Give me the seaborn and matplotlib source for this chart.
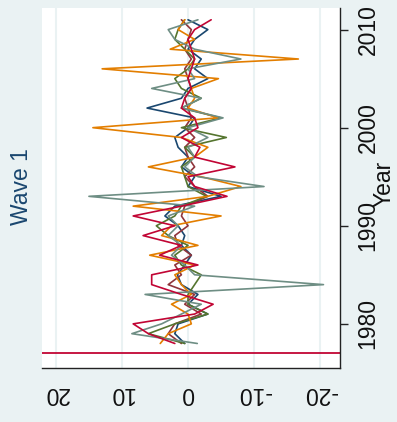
import numpy as np
import pandas as pd
import matplotlib
matplotlib.use("Agg")
import matplotlib.pyplot as plt
import seaborn as sns

years = list(range(1978, 2012))
navy = [0.5, 2, 1.5, -3, 0, -1.5, 1, 1.6, 0.5, -0.5, 1, 0.5, 1.5, 3.5, 2, -5, 0, -1, 1, 0,
        1.5, 2, 0, -1, 6.2, 1, 0, -3, -1, -2, 0, -1, -3, 0]
maroon = [1, 3, 2, -2, 0.5, -1, 3, 1, 2, -0.5, 1.5, 2, 0, 1, 0.5, -3, -1, 0.5, -1, 0,
          0.5, -1, 0.5, -0.5, 0, 0.5, -0.5, 0, 0.5, -0.5, 0.5, 0, -0.5, 1]
green = [0.5, 6, 2, -3, 0, 0, -1, -2, 1, 2, 0, 3, 4.8, 2, 1, -2.8, 0, 0.5, 1, -1,
         0.5, -5.8, 1, -5, 1, -2, 1, 2, 0, -1, 0.5, 2, 1.5, 0.5]
orange = [4.2, 3, -0.5, 0, 2.5, -0.5, 1, 2, -1, 5.8, -1.5, 4, 2.5, -5, 8.3, -3, -8, -2, 6, -1,
          -3, 1, 14.4, -4.5, 0, -1, -0.5, -4.6, 13, -16.7, 2.7, -1, 1.5, 0.5]
teal = [-1.4, 8.5, 4, 1, -2, 6.5, -20.5, -1, 0.5, 2.5, 1, 3, 1.5, 3, -1, 15, -11.5, -1.5, 0.5, -1,
        0, -3, 0, -5.3, 1, -2, 5.5, -1, 0, -8, -1, 2, 3, -1.5]
cranberry = [2, 6, 8.3, -1, -3.8, 1, 5.5, 5.5, -1.5, 4.3, 1, 6.8, 2, 8.3, 1, -5.9, -1, 0, -7.1, -1,
             -1.8, 1, -1.5, -1, 1, 0.5, -0.5, 0, -0.5, -1, -0.5, 0, -1, -3.5]
xticks = [20, 10, 0, -10, -20]
yticks = [1980, 1990, 2000, 2010]
ref_year = 1977

series = {"navy": navy, "maroon": maroon, "green": green,
          "orange": orange, "teal": teal, "cranberry": cranberry}
colors = {"navy": "#1a476f", "maroon": "#90353b", "green": "#55752f",
          "orange": "#e37e00", "teal": "#6e8e84", "cranberry": "#c10534"}

df = pd.concat([pd.DataFrame({"year": years, "value": v, "series": k})
                for k, v in series.items()], ignore_index=True)

sns.set_style("white")
plt.rcParams["font.family"] = ["Liberation Sans", "DejaVu Sans"]

bg = "#eaf2f3"
fs = 16.5
fig = plt.figure(figsize=(3.97, 4.22), dpi=100, facecolor=bg)
ax = fig.add_axes([42/397, 1-368/422, (340-42)/397, (368-8)/422])
ax.set_facecolor("white")

for x in xticks:
    ax.axvline(x, color=bg, lw=1.5, zorder=0)

sns.lineplot(data=df, x="value", y="year", hue="series", palette=colors,
             sort=False, estimator=None, orient="y", lw=1.2, ax=ax, legend=False)

ax.axhline(ref_year, color="#c10534", lw=1.3)

ax.set_xlim(22.1, -23.0)
ax.set_ylim(1975.5, 2012.2)
ax.set_xticks(xticks)
ax.set_xticklabels([str(t) for t in xticks], rotation=180, fontsize=fs, color="#111111")
ax.yaxis.tick_right()
ax.set_yticks(yticks)
ax.set_yticklabels([str(t) for t in yticks], rotation=90, va="center", fontsize=fs, color="#111111")
ax.set_xlabel("")
ax.set_ylabel("")
for s in ["top", "left"]:
    ax.spines[s].set_visible(False)
for s in ["bottom", "right"]:
    ax.spines[s].set_color("#222222")
    ax.spines[s].set_linewidth(1.0)
ax.tick_params(axis="x", direction="out", length=6, width=1, pad=4, colors="#222222",
               labelcolor="#111111")
ax.tick_params(axis="y", direction="out", length=6, width=1, pad=6, colors="#222222",
               labelcolor="#111111")
ax.grid(False)

fig.text(384/397, 1-184/422, "Year", rotation=90, ha="center", va="center",
         fontsize=fs, color="#111111")
fig.text(22/397, 1-187/422, "Wave 1", rotation=90, ha="center", va="center",
         fontsize=fs, color="#1a476f")

fig.savefig("out.png", dpi=100, facecolor=bg)
